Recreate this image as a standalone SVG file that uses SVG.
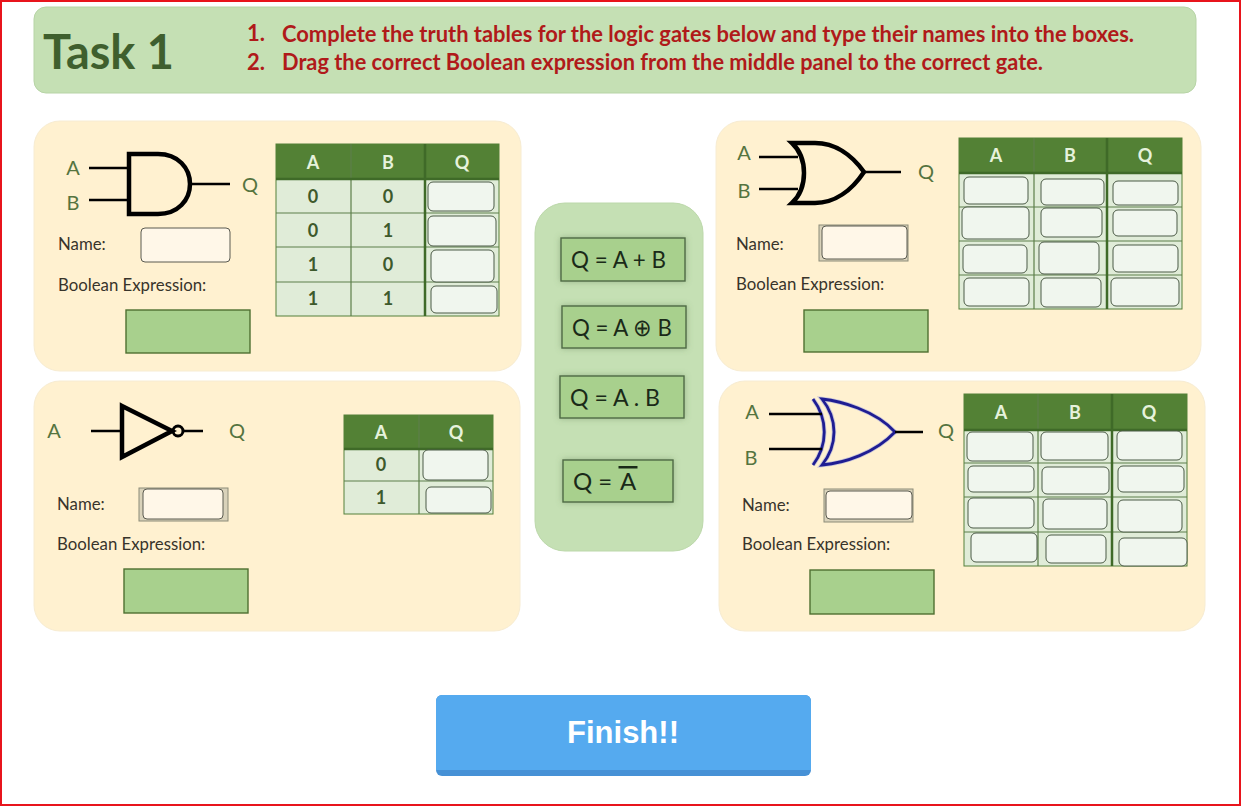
<svg xmlns="http://www.w3.org/2000/svg" width="1241" height="806" viewBox="0 0 1241 806">
<style>
text{font-family:Lato,"Open Sans","Liberation Sans",sans-serif}
.panel{fill:#fff1d0;stroke:#f7ecd2;stroke-width:1}
.hd{fill:#538135}
.body{fill:#e0ecd8;stroke:#54803a;stroke-width:1}
.grid{stroke:#5d7f4a;stroke-width:1.2;fill:none}
.gridb{stroke:#3f6a28;stroke-width:2.5;fill:none}
.cell{fill:#f0f6ee;stroke:#4b5a46;stroke-width:1}
.name{fill:#fff7e8;stroke:#5a5a50;stroke-width:1}
.nameo{fill:#d9d2ba;stroke:#8c8c78;stroke-width:1}
.drop{fill:#a8d08d;stroke:#4f7031;stroke-width:1.4}
.tile{fill:#a8d08d;stroke:#4f6a45;stroke-width:1.4;filter:url(#soft)}
.th{fill:#e6f2dc;font-size:18px;font-weight:700;text-anchor:middle}
.td{fill:#3d5a2c;font-size:18px;font-weight:700;text-anchor:middle}
.lab{fill:#55743f;font-size:20px;text-anchor:middle}
.t{fill:#38342b;font-size:16.800px}
.ex{fill:#1a2a18;font-size:24px}
.gate{fill:none;stroke:#000;stroke-width:4.500;stroke-linejoin:miter}
.wire{fill:none;stroke:#000;stroke-width:2.600}
.inst{fill:#b01a1a;font-size:22px;font-weight:700}
</style>
<defs>
<filter id="soft" x="-15%" y="-30%" width="130%" height="160%"><feDropShadow dx="0" dy="0" stdDeviation="3" flood-color="#5f7f50" flood-opacity=".45"/></filter>
</defs>
<rect x="1" y="1" width="1239" height="804" fill="#fff" stroke="#e8141c" stroke-width="2"/>
<g id="header">
<rect x="34" y="7" width="1162" height="86" rx="12" fill="#c5e0b4" stroke="#b7d4a6"/>
<text x="43" y="69" font-size="48" font-weight="700" fill="#3f5f2e" textLength="131" lengthAdjust="spacingAndGlyphs">Task 1</text>
<text class="inst" x="247" y="41">1.</text>
<text class="inst" x="282" y="41.500" textLength="852" lengthAdjust="spacingAndGlyphs">Complete the truth tables for the logic gates below and type their names into the boxes.</text>
<text class="inst" x="247" y="70">2.</text>
<text class="inst" x="282" y="70" textLength="761" lengthAdjust="spacingAndGlyphs">Drag the correct Boolean expression from the middle panel to the correct gate.</text>
</g>

<g id="and-panel">
<rect class="panel" x="34" y="121" width="487" height="250" rx="26"/>
<path class="gate" d="M129 154H158C178 154 190 168 190 184C190 200 178 214 158 214H129Z"/>
<text class="lab" x="73" y="175">A</text><text class="lab" x="73" y="210">B</text><text class="lab" x="250" y="192">Q</text>
<text class="t" x="58" y="250">Name:</text>
<rect class="name" x="141" y="228" width="89" height="34" rx="4"/>
<text class="t" x="58" y="291">Boolean Expression:</text>
<rect class="drop" x="126" y="310" width="124" height="43"/>
<g id="and-table">
<rect class="body" x="276" y="144" width="223" height="172"/>
<rect class="hd" x="276" y="144" width="223" height="35"/>
<path class="grid" d="M351 144V316M276 213H499M276 247H499M276 282H499"/>
<path class="gridb" d="M425 144V316M276 179H499"/>
<text class="th" x="313" y="169">A</text><text class="th" x="388" y="169">B</text><text class="th" x="462" y="169">Q</text>
<text class="td" x="313" y="203">0</text><text class="td" x="388" y="203">0</text>
<text class="td" x="313" y="237">0</text><text class="td" x="388" y="237">1</text>
<text class="td" x="313" y="271">1</text><text class="td" x="388" y="271">0</text>
<text class="td" x="313" y="305">1</text><text class="td" x="388" y="305">1</text>
<rect class="cell" x="428" y="182" width="66" height="29" rx="5"/>
<rect class="cell" x="428" y="216" width="68" height="30" rx="5"/>
<rect class="cell" x="431" y="250" width="63" height="32" rx="5"/>
<rect class="cell" x="431" y="286" width="66" height="27" rx="5"/>
</g>
</g>

<g id="not-panel">
<rect class="panel" x="34" y="381" width="486" height="250" rx="26"/>
<path class="gate" d="M122 406L172 431L122 457Z"/>
<circle cx="178" cy="431" r="5" fill="none" stroke="#000" stroke-width="3"/>
<text class="lab" x="54" y="438">A</text><text class="lab" x="237" y="438">Q</text>
<text class="t" x="57" y="510">Name:</text>
<rect class="nameo" x="139" y="488" width="89" height="33"/>
<rect class="name" x="143" y="489" width="80" height="30" rx="4"/>
<text class="t" x="57" y="550">Boolean Expression:</text>
<rect class="drop" x="124" y="569" width="124" height="44"/>
<g id="not-table">
<rect class="body" x="344" y="415" width="149" height="99"/>
<rect class="hd" x="344" y="415" width="149" height="34"/>
<path class="grid" d="M419 415V514M344 481H493"/>
<path class="gridb" d="M344 449H493"/>
<text class="th" x="381" y="439">A</text><text class="th" x="456" y="439">Q</text>
<text class="td" x="381" y="471">0</text><text class="td" x="381" y="504">1</text>
<rect class="cell" x="423" y="450" width="65" height="30" rx="5"/>
<rect class="cell" x="426" y="487" width="65" height="26" rx="5"/>
</g>
</g>

<g id="or-panel">
<rect class="panel" x="716" y="121" width="485" height="250" rx="26"/>
<path class="gate" d="M792 143H815C835 143 852 155 864 172C852 190 835 203 815 203H792C808 188 808 158 792 143Z"/>
<text class="lab" x="744" y="160">A</text><text class="lab" x="744" y="198">B</text><text class="lab" x="926" y="179">Q</text>
<text class="t" x="736" y="250">Name:</text>
<rect class="nameo" x="819" y="225" width="89" height="36" fill="#e6dfc8"/>
<rect class="name" x="822" y="226" width="85" height="33" rx="4"/>
<text class="t" x="736" y="290">Boolean Expression:</text>
<rect class="drop" x="804" y="310" width="124" height="42"/>
<g id="or-table">
<rect class="body" x="959" y="138" width="223" height="171"/>
<rect class="hd" x="959" y="138" width="223" height="35"/>
<path class="grid" d="M1034 138V309M959 207H1182M959 241H1182M959 275H1182"/>
<path class="gridb" d="M1107 138V309M959 173H1182"/>
<text class="th" x="996" y="162">A</text><text class="th" x="1070" y="162">B</text><text class="th" x="1145" y="162">Q</text>
<rect class="cell" x="964" y="177" width="64" height="27" rx="5"/>
<rect class="cell" x="1041" y="179" width="63" height="26" rx="5"/>
<rect class="cell" x="1113" y="181" width="65" height="24" rx="5"/>
<rect class="cell" x="962" y="207" width="67" height="32" rx="5"/>
<rect class="cell" x="1041" y="208" width="61" height="29" rx="5"/>
<rect class="cell" x="1113" y="210" width="64" height="26" rx="5"/>
<rect class="cell" x="963" y="245" width="64" height="28" rx="5"/>
<rect class="cell" x="1039" y="242" width="60" height="32" rx="5"/>
<rect class="cell" x="1113" y="245" width="65" height="27" rx="5"/>
<rect class="cell" x="964" y="278" width="65" height="28" rx="5"/>
<rect class="cell" x="1041" y="278" width="60" height="29" rx="5"/>
<rect class="cell" x="1111" y="278" width="68" height="28" rx="5"/>
</g>
</g>

<g id="xor-panel">
<rect class="panel" x="719" y="381" width="486" height="250" rx="26"/>
<g fill="none" stroke-width="4.500" stroke="#c9c6d8"><path d="M822 399C840 401 875 410 895 432C875 453 845 463 822 465C838 445 838 419 822 399Z"/><path d="M813 399C828 419 828 445 813 465"/></g>
<g fill="none" stroke-width="2.800" stroke="#1f1d92"><path d="M822 399C840 401 875 410 895 432C875 453 845 463 822 465C838 445 838 419 822 399Z"/><path d="M813 399C828 419 828 445 813 465"/></g>
<text class="lab" x="752" y="419">A</text><text class="lab" x="751" y="465">B</text><text class="lab" x="946" y="438">Q</text>
<text class="t" x="742" y="511">Name:</text>
<rect class="nameo" x="824" y="489" width="89" height="33" fill="#e6dfc8"/>
<rect class="name" x="826" y="491" width="86" height="28" rx="4"/>
<text class="t" x="742" y="550">Boolean Expression:</text>
<rect class="drop" x="810" y="570" width="124" height="44"/>
<g id="xor-table">
<rect class="body" x="964" y="394" width="223" height="172"/>
<rect class="hd" x="964" y="394" width="223" height="36"/>
<path class="grid" d="M1038 394V566M964 463H1187M964 497H1187M964 532H1187"/>
<path class="gridb" d="M1112 394V566M964 430H1187"/>
<text class="th" x="1001" y="419">A</text><text class="th" x="1075" y="419">B</text><text class="th" x="1149" y="419">Q</text>
<rect class="cell" x="967" y="432" width="66" height="29" rx="5"/>
<rect class="cell" x="1041" y="432" width="67" height="28" rx="5"/>
<rect class="cell" x="1117" y="431" width="65" height="29" rx="5"/>
<rect class="cell" x="968" y="466" width="66" height="26" rx="5"/>
<rect class="cell" x="1042" y="467" width="67" height="27" rx="5"/>
<rect class="cell" x="1118" y="466" width="66" height="26" rx="5"/>
<rect class="cell" x="968" y="498" width="66" height="30" rx="5"/>
<rect class="cell" x="1043" y="499" width="64" height="30" rx="5"/>
<rect class="cell" x="1118" y="500" width="64" height="32" rx="5"/>
<rect class="cell" x="971" y="533" width="66" height="29" rx="5"/>
<rect class="cell" x="1046" y="535" width="60" height="28" rx="5"/>
<rect class="cell" x="1119" y="538" width="68" height="28" rx="5"/>
</g>
</g>

<g id="expressions-panel">
<rect x="535" y="203" width="168" height="348" rx="30" fill="#c5e0b4" stroke="#bcd8aa"/>
<g id="expr-or"><rect class="tile" x="561" y="238" width="124" height="43"/><text class="ex" x="571" y="268" textLength="95" lengthAdjust="spacingAndGlyphs">Q = A + B</text></g>
<g id="expr-xor"><rect class="tile" x="562" y="306" width="124" height="42"/><text class="ex" x="572" y="336" textLength="100" lengthAdjust="spacingAndGlyphs">Q = A ⊕ B</text></g>
<g id="expr-and"><rect class="tile" x="560" y="376" width="124" height="42"/><text class="ex" x="570" y="406" textLength="90" lengthAdjust="spacingAndGlyphs">Q = A . B</text></g>
<g id="expr-not"><rect class="tile" x="563" y="460" width="110" height="42"/><text class="ex" x="573" y="490">Q = </text><text class="ex" x="620" y="490">A</text><rect x="618.500" y="466" width="19" height="2.500" fill="#1a2a18"/></g>
</g>

<g id="connectors">
<path class="wire" d="M89 168H129M89 200H129M190 184H230"/>
<path class="wire" d="M91 431H122M183 431H203"/>
<path class="wire" d="M759 157H798M759 189H798M864 172H901"/>
<path class="wire" d="M769 414H822M769 449H822M895 432H923"/>
</g>

<g id="finish">
<rect x="436" y="695" width="375" height="81" rx="6" fill="#4691d6"/>
<path d="M442 695H805A6 6 0 0 1 811 701V770H436V701A6 6 0 0 1 442 695Z" fill="#55aaef"/>
<text x="623" y="743" text-anchor="middle" font-size="31" font-weight="700" fill="#fff" style="font-family:'Liberation Sans',Arial,sans-serif">Finish!!</text>
</g>
</svg>
